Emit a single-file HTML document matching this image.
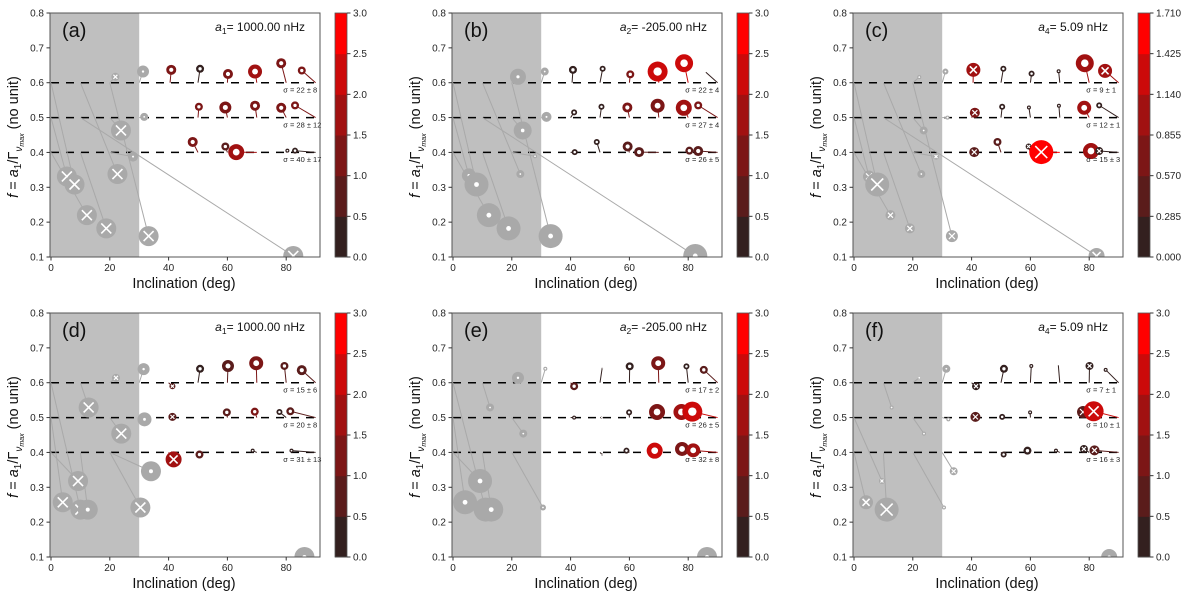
<!DOCTYPE html>
<html><head><meta charset="utf-8"><style>
html,body{margin:0;padding:0;background:#fff;}
svg{display:block;font-family:"Liberation Sans","DejaVu Sans",sans-serif;}
</style></head><body>
<svg id="fig" width="1200" height="597" viewBox="0 0 1200 597" xmlns="http://www.w3.org/2000/svg"></svg>
<script>
// ---- data ----
const panelLetters = ['(a)','(b)','(c)','(d)','(e)','(f)'];
const panelTitles = [['a','1','= 1000.00 nHz'],['a','2','= -205.00 nHz'],['a','4','= 5.09 nHz'],['a','1','= 1000.00 nHz'],['a','2','= -205.00 nHz'],['a','4','= 5.09 nHz']];
const rowLevels = [0.6, 0.5, 0.4];
const sigmaA = ['22 ± 8','28 ± 12','40 ± 17'];
const sigmaB = ['22 ± 4','27 ± 4','26 ± 5'];
const sigmaC = ['9 ± 1','12 ± 1','15 ± 3'];
const sigmaD = ['15 ± 6','20 ± 8','31 ± 13'];
const sigmaE = ['17 ± 2','26 ± 5','32 ± 8'];
const sigmaF = ['7 ± 1','10 ± 1','16 ± 3'];
const cbMax = [3, 3, 1.71, 3, 3, 3];
const cbTicksStd = ['0.0','0.5','1.0','1.5','2.0','2.5','3.0'];
const cbTicksC = ['0.000','0.285','0.570','0.855','1.140','1.425','1.710'];
const xTicks = [0, 20, 40, 60, 80];
const yTicks = [0.1, 0.2, 0.3, 0.4, 0.5, 0.6, 0.7, 0.8];
// points: [fitX, fitY, radius, colorValue(-1 = gray), marker, trueX, trueY]
const pointsA = [
 [21.9,0.617,4,-1,'x',20,0.6],[31.3,0.632,6,-1,'o',30,0.6],[40.9,0.637,5,1.0,'o',40.5,0.6],[50.7,0.64,4,0.3,'o',50,0.6],
 [60.2,0.625,5,1.2,'o',60,0.6],[69.4,0.632,7,1.7,'o',70,0.6],[78.3,0.656,5,1.2,'o',80,0.6],[85.3,0.635,4,1.0,'o',90,0.6],
 [31.7,0.502,4,-1,'o',30,0.5],[50.3,0.531,4,1.1,'o',50,0.5],[59.3,0.529,6,1.3,'o',60,0.5],[69.4,0.534,5,1.2,'o',70,0.5],
 [78.3,0.528,5,1.1,'o',80,0.5],[83,0.535,4,1.0,'o',90,0.5],
 [48.2,0.43,5,1.3,'o',50,0.4],[59.3,0.417,4,0.9,'o',60,0.4],[63,0.401,8,1.6,'o',70,0.4],[80.4,0.405,2,0.2,'o',80,0.4],[83,0.405,3,0.2,'o',90,0.4],
 [23.8,0.463,10,-1,'x',20,0.5],[27.9,0.388,5,-1,'o',20,0.4],[22.6,0.338,10,-1,'x',10,0.6],[5.4,0.331,10,-1,'x',0,0.5],
 [8,0.308,10,-1,'x',0,0.6],[12.2,0.22,10,-1,'x',0,0.4],[18.8,0.182,10,-1,'x',10,0.4],[33.2,0.16,10,-1,'x',20,0.6],[82.4,0.103,10,-1,'x',10,0.5]
];
const pointsB = [
 [22.1,0.617,8,-1,'o',20,0.6],[31.2,0.632,4,-1,'o',30,0.6],[40.8,0.637,4,0.2,'o',40.5,0.6],[50.9,0.64,3,0.1,'o',50,0.6],
 [60.3,0.624,4,1.0,'o',60,0.6],[69.6,0.632,10,2.2,'o',70,0.6],[78.6,0.656,9,2.2,'o',80,0.6],[86,0.63,0,0.3,'n',90,0.6],
 [31.8,0.502,5,-1,'o',30,0.5],[41.2,0.515,3,0.2,'o',40,0.5],[50.5,0.531,3,0.1,'o',50,0.5],[59.3,0.529,5,1.2,'o',60,0.5],
 [69.6,0.534,7,1.4,'o',70,0.5],[78.5,0.528,8,1.5,'o',80,0.5],[83.4,0.535,4,1.0,'o',90,0.5],
 [27.9,0.389,2,-1,'o',20,0.4],[41.4,0.401,3,0.1,'o',40,0.4],[48.9,0.43,3,0.2,'o',50,0.4],[59.4,0.417,5,0.8,'o',60,0.4],
 [63.3,0.401,5,0.8,'o',70,0.4],[80.4,0.405,4,0.9,'o',80,0.4],[83.4,0.404,5,0.9,'o',90,0.4],
 [23.7,0.463,9,-1,'o',20,0.5],[22.9,0.338,4,-1,'o',10,0.6],[5.4,0.334,7,-1,'o',0,0.5],[8,0.308,12,-1,'o',0,0.6],
 [12.2,0.22,12,-1,'o',0,0.4],[18.9,0.182,12,-1,'o',10,0.4],[33.2,0.16,12,-1,'o',20,0.6],[82.4,0.103,12,-1,'o',10,0.5]
];
const pointsC = [
 [22.2,0.616,2,-1,'o',20,0.6],[31.1,0.632,3,-1,'o',30,0.6],[40.6,0.637,7,1.0,'x',40.5,0.6],[50.8,0.64,3,0.1,'o',50,0.6],
 [60.4,0.626,3,0.1,'o',60,0.6],[69.6,0.633,2,0.1,'o',70,0.6],[78.5,0.656,9,1.0,'o',80,0.6],[85.4,0.634,7,1.0,'x',90,0.6],
 [31.8,0.5,2,-1,'o',30,0.5],[41.1,0.514,5,0.6,'x',40,0.5],[50.4,0.531,3,0.1,'o',50,0.5],[59.5,0.529,2,0.1,'o',60,0.5],
 [69.7,0.534,2,0.1,'o',70,0.5],[78.3,0.528,7,1.0,'o',80,0.5],[83.4,0.535,3,0.1,'o',90,0.5],
 [40.9,0.401,5,0.3,'x',40,0.4],[48.8,0.43,4,0.5,'o',50,0.4],[59.4,0.417,3,0.1,'x',60,0.4],[63.7,0.401,12,1.71,'x',70,0.4],
 [80.6,0.404,8,0.9,'o',80,0.4],[83.4,0.404,4,0.1,'x',90,0.4],
 [23.7,0.463,4,-1,'o',20,0.5],[22.9,0.338,4,-1,'o',10,0.6],[27.9,0.388,3,-1,'x',20,0.4],[5.1,0.331,6,-1,'x',0,0.5],
 [7.9,0.308,12,-1,'x',0,0.6],[12.4,0.22,5,-1,'x',0,0.4],[19,0.182,5,-1,'x',10,0.4],[33.3,0.16,6,-1,'x',20,0.6],[82.5,0.103,8,-1,'x',10,0.5]
];
const pointsD = [
 [22.1,0.614,4,-1,'x',20,0.6],[31.5,0.639,6,-1,'o',30,0.6],[41.3,0.59,3,0.8,'x',40,0.6],[50.7,0.64,4,0.2,'o',50,0.6],
 [60.2,0.648,6,0.9,'o',60,0.6],[69.8,0.656,7,1.2,'o',70,0.6],[79.4,0.648,4,0.8,'o',80,0.6],[85.3,0.636,5,0.8,'o',90,0.6],
 [31.8,0.495,7,-1,'o',30,0.5],[41.3,0.502,4,0.8,'x',40,0.5],[59.8,0.515,4,0.8,'o',60,0.5],[69.3,0.517,4,1.0,'o',70,0.5],
 [77.7,0.516,3,0.3,'o',80,0.5],[81.4,0.518,4,0.9,'o',90,0.5],
 [41.7,0.38,8,1.9,'x',40,0.4],[50.5,0.394,4,0.6,'o',50,0.4],[68.6,0.405,2,0.1,'o',70,0.4],[81.8,0.405,2,0.1,'o',90,0.4],
 [12.8,0.529,10,-1,'x',10,0.6],[23.9,0.454,10,-1,'x',20,0.5],[34,0.346,10,-1,'o',20,0.4],[9.2,0.318,10,-1,'x',0,0.4],
 [4,0.257,10,-1,'x',0,0.5],[10,0.236,10,-1,'x',0,0.6],[12.5,0.236,10,-1,'o',10,0.4],[30.4,0.242,10,-1,'x',20,0.4],[86.2,0.1,10,-1,'o',86.2,0.1]
];
const pointsE = [
 [22.1,0.614,6,-1,'o',20,0.6],[31.4,0.64,2,-1,'o',30,0.6],[41.2,0.59,4,0.8,'o',40,0.6],[50.7,0.64,1,0.1,'o',50,0.6],
 [60.1,0.647,4,0.2,'o',60,0.6],[69.8,0.656,7,1.2,'o',70,0.6],[79.4,0.647,3,0.1,'o',80,0.6],[85.3,0.637,4,0.7,'o',90,0.6],
 [41.2,0.5,2,0.1,'o',40,0.5],[50.5,0.5,1,0.1,'o',50,0.5],[59.9,0.515,3,0.1,'o',60,0.5],[69.4,0.516,8,1.4,'o',70,0.5],
 [77.7,0.516,8,1.6,'o',80,0.5],[81.4,0.517,10,2.3,'o',90,0.5],
 [50.7,0.394,1,0.1,'o',50,0.4],[59,0.405,3,0.1,'o',60,0.4],[68.6,0.405,8,2.0,'o',70,0.4],[77.9,0.41,7,1.4,'o',80,0.4],[81.7,0.406,7,1.5,'o',90,0.4],
 [12.6,0.529,4,-1,'o',10,0.6],[23.9,0.454,4,-1,'o',20,0.5],[9.2,0.318,12,-1,'o',0,0.4],[4.1,0.257,12,-1,'o',0,0.5],
 [11.1,0.236,12,-1,'o',0,0.6],[13,0.236,12,-1,'o',10,0.4],[30.6,0.242,3,-1,'o',20,0.4],[86.4,0.1,10,-1,'o',86.4,0.1]
];
const pointsF = [
 [22.2,0.614,1,-1,'o',20,0.6],[31.4,0.64,4,-1,'o',30,0.6],[41.5,0.59,4,0.3,'x',40,0.6],[51,0.64,4,0.2,'o',50,0.6],
 [60.3,0.648,2,0.1,'o',60,0.6],[80.1,0.648,4,0.3,'x',80,0.6],[85.6,0.637,2,0.1,'o',90,0.6],[69.5,0.65,0,0.1,'n',70,0.6],
 [32.1,0.495,2,-1,'o',30,0.5],[41.3,0.502,5,0.9,'x',40,0.5],[50.4,0.502,3,0.2,'o',50,0.5],[59.9,0.515,2,0.1,'o',60,0.5],
 [77.9,0.516,6,0.7,'x',80,0.5],[81.5,0.518,10,2.0,'x',90,0.5],
 [50.9,0.394,3,0.2,'o',50,0.4],[59,0.405,4,0.4,'o',60,0.4],[68.7,0.405,2,0.1,'o',70,0.4],[78.2,0.41,4,0.2,'x',80,0.4],[81.8,0.406,5,0.7,'x',90,0.4],
 [12.8,0.529,2,-1,'o',10,0.6],[23.8,0.454,2,-1,'o',20,0.5],[33.9,0.346,4,-1,'x',30,0.4],[9.5,0.318,3,-1,'x',0,0.5],
 [4.1,0.257,7,-1,'x',0,0.4],[11.1,0.236,12,-1,'x',10,0.4],[30.6,0.242,2,-1,'o',20,0.4],[86.8,0.1,8,-1,'o',86.8,0.1]
];
const allPoints = [pointsA, pointsB, pointsC, pointsD, pointsE, pointsF];
const allSigma = [sigmaA, sigmaB, sigmaC, sigmaD, sigmaE, sigmaF];
const bandColors = ['#33201f','#5a1c1b','#7c1616','#a11111','#cc0a0a','#ff0000'];

// ---- drawing ----
const NS = 'http://www.w3.org/2000/svg';
const svg = document.getElementById('fig');
function mk(tag, attrs, parent) {
  const e = document.createElementNS(NS, tag);
  for (const k in attrs) e.setAttribute(k, attrs[k]);
  (parent || svg).appendChild(e);
  return e;
}
const lefts = [50, 452, 853], tops = [13, 313];
const W = 270, H = 244;
function colorFor(v, max) {
  let i = Math.floor(v / max * 6); if (i > 5) i = 5; if (i < 0) i = 0;
  return bandColors[i];
}
for (let p = 0; p < 6; p++) {
  const L = lefts[p % 3], T = tops[Math.floor(p / 3)];
  const xs = d => L + 1 + d * 2.94;
  const ys = v => T + (0.8 - v) / 0.7 * H;
  const g = mk('g', {});
  
  
  const clipId = 'clip' + p;
  const cp = mk('clipPath', {id: clipId}, g);
  mk('rect', {x: L, y: T, width: W, height: H}, cp);
  const plot = mk('g', {'clip-path': 'url(#' + clipId + ')'}, g);
  const shade = mk('rect', {x: L, y: T, width: xs(30) - L, height: H, fill: '#bfbfbf'}, plot);
  
  
  // dashed rows
  rowLevels.forEach((lv, i) => {
    const dl = mk('line', {x1: xs(0), x2: xs(90), y1: ys(lv), y2: ys(lv), stroke: '#000', 'stroke-width': 1.5, 'stroke-dasharray': '8,7'}, plot);
    
    
    const st = mk('text', {x: xs(79), y: ys(lv - 0.028), 'font-size': 7.5, fill: '#222'}, g);
    st.textContent = 'σ = ' + allSigma[p][i];
    
    
  });
  // lines
  allPoints[p].forEach(pt => {
    const [x, y, r, c, m, tx, ty] = pt;
    const col = c < 0 ? '#a9a9a9' : colorFor(c, cbMax[p]);
    const ln = mk('line', {x1: xs(tx), y1: ys(ty), x2: xs(x), y2: ys(y), stroke: col, 'stroke-width': 1}, plot);
    
    
  });
  // markers
  allPoints[p].forEach(pt => {
    const [x, y, r, c, m] = pt;
    if (m === 'n' || r <= 0) return;
    const col = c < 0 ? '#a9a9a9' : colorFor(c, cbMax[p]);
    const cx = xs(x), cy = ys(y);
    const mg = mk('g', {}, plot);
    
    
    mk('circle', {cx: cx, cy: cy, r: r, fill: col}, mg);
    if (m === 'x') {
      const s = r * 0.5;
      mk('path', {d: `M${cx - s},${cy - s}L${cx + s},${cy + s}M${cx - s},${cy + s}L${cx + s},${cy - s}`, stroke: '#fff', 'stroke-width': r > 6 ? 1.6 : 1.2}, mg);
    } else {
      const ir = c < 0 ? Math.max(0.9, r * 0.2) : Math.max(0.7, r * 0.42);
      mk('circle', {cx: cx, cy: cy, r: ir, fill: '#fff'}, mg);
    }
  });
  // axes frame
  const fr = mk('rect', {x: L, y: T, width: W, height: H, fill: 'none', stroke: '#555', 'stroke-width': 1}, g);
  
  
  xTicks.forEach(t => {
    mk('line', {x1: xs(t), x2: xs(t), y1: T + H, y2: T + H + 3.5, stroke: '#333'}, g);
    const tl = mk('text', {x: xs(t), y: T + H + 14, 'font-size': 10, 'text-anchor': 'middle', fill: '#262626'}, g);
    tl.textContent = t;
    
    
  });
  yTicks.forEach(t => {
    mk('line', {x1: L - 3.5, x2: L, y1: ys(t), y2: ys(t), stroke: '#333'}, g);
    const tl = mk('text', {x: L - 6, y: ys(t) + 3.5, 'font-size': 10, 'text-anchor': 'end', fill: '#262626'}, g);
    tl.textContent = t.toFixed(1);
    
    
  });
  const xl = mk('text', {x: L + 134, y: T + H + 31, 'font-size': 14.5, 'text-anchor': 'middle', fill: '#111'}, g);
  xl.textContent = 'Inclination (deg)';
  
  
  const yl = mk('text', {transform: `translate(${L - 32},${T + H / 2 + 2}) rotate(-90)`, 'font-size': 14.5, 'text-anchor': 'middle', fill: '#111'}, g);
  yl.innerHTML = '<tspan font-style="italic">f</tspan> = <tspan font-style="italic">a</tspan><tspan font-size="10" dy="3">1</tspan><tspan dy="-3">/Γ</tspan><tspan font-size="10" font-style="italic" dy="4">ν</tspan><tspan font-size="7" font-style="italic" dy="2">max</tspan><tspan dy="-6">  (no unit)</tspan>';
  
  
  const lt = mk('text', {x: L + 12, y: T + 24, 'font-size': 20, fill: '#111'}, g);
  lt.textContent = panelLetters[p];
  
  
  const tt = mk('text', {x: L + 255, y: T + 18, 'font-size': 12, 'text-anchor': 'end', fill: '#111'}, g);
  const pt = panelTitles[p];
  tt.innerHTML = '<tspan font-style="italic">' + pt[0] + '</tspan><tspan font-size="8.5" dy="3">' + pt[1] + '</tspan><tspan dy="-3">' + pt[2] + '</tspan>';
  
  
  // colorbar
  const cbX = L + 285, cbW = 12;
  const cb = mk('g', {}, g);
  
  
  for (let i = 0; i < 6; i++) {
    mk('rect', {x: cbX, y: T + H - (i + 1) * H / 6, width: cbW, height: H / 6 + 0.5, fill: bandColors[i]}, cb);
  }
  mk('rect', {x: cbX, y: T, width: cbW, height: H, fill: 'none', stroke: '#555', 'stroke-width': 0.8}, cb);
  const labs = p === 2 ? cbTicksC : cbTicksStd;
  labs.forEach((lb, i) => {
    const yy = T + H - i * H / 6;
    mk('line', {x1: cbX + cbW, x2: cbX + cbW + 3.5, y1: yy, y2: yy, stroke: '#333'}, cb);
    const t = mk('text', {x: cbX + cbW + 6, y: yy + 3.5, 'font-size': 10, fill: '#262626'}, cb);
    t.textContent = lb;
    
    
  });
}
</script>
</body></html>
